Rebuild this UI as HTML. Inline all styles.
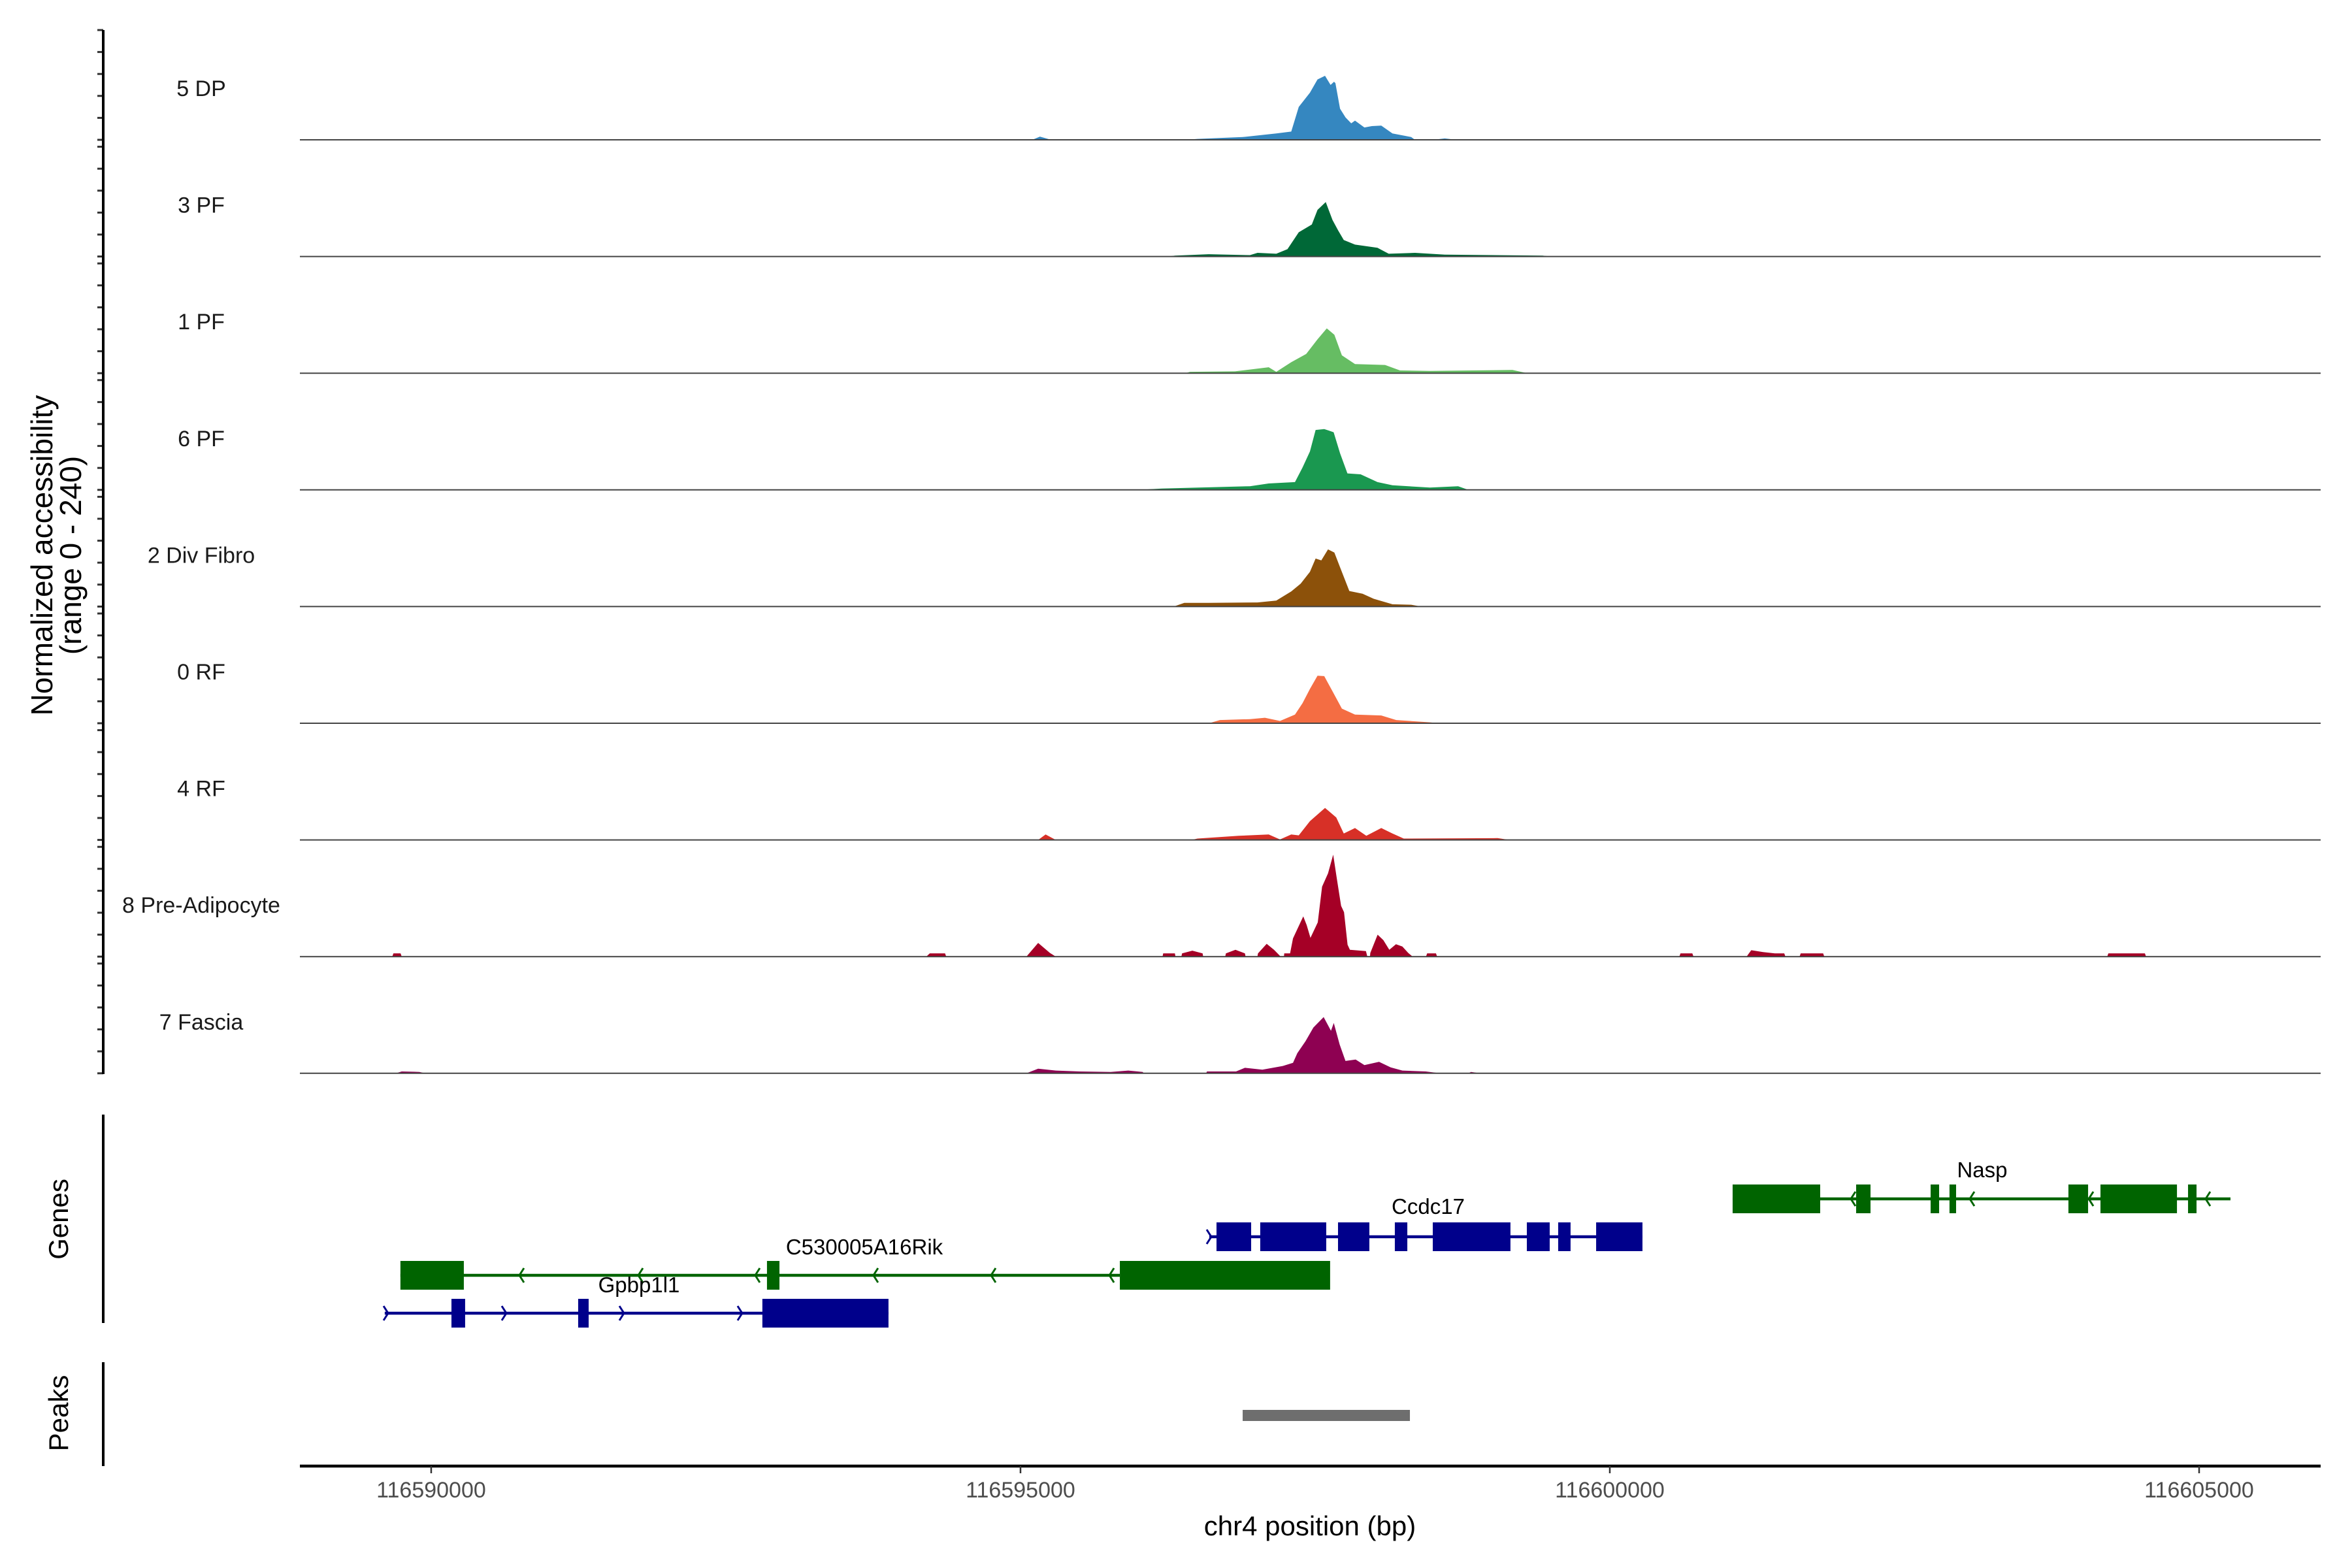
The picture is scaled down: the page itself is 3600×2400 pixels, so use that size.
<!DOCTYPE html>
<html><head><meta charset="utf-8"><style>
html,body{margin:0;padding:0;background:#fff;}
svg{display:block;font-family:"Liberation Sans",Arial,sans-serif;}
</style></head><body>
<svg id="chart" xmlns="http://www.w3.org/2000/svg" width="3600" height="2400" viewBox="0 0 3600 2400">
<rect width="3600" height="2400" fill="#fff"/>
<g id="tracks"></g>
<g id="genes"></g>
<g id="peaks"></g>
<g id="axes"></g>
</svg>
<script>
const NS="http://www.w3.org/2000/svg";
const BASE=116590000;
const trackNames=["5 DP","3 PF","1 PF","6 PF","2 Div Fibro","0 RF","4 RF","8 Pre-Adipocyte","7 Fascia"];
const trackColors=["#3587c0","#006837","#66bd63","#1a9850","#8c510a","#f46d43","#d73027","#a50026","#8e0152"];
const pos5DP=[5100,5165,5260,6400,6502,6884,7170,7297,7361,7456,7520,7584,7631,7660,7672,7711,7758,7806,7838,7918,7981,8061,8156,8315,8347,8500,8600,8700];
const val5DP=[0,7,0,0,2,6,14,18,72,103,132,140,120,127,124,68,49,36,42,27,30,31,14,6,0,0,3,0];
const pos3PF=[6250,6311,6597,6947,7011,7170,7265,7361,7472,7520,7590,7647,7695,7743,7838,8029,8124,8347,8600,9429,9500];
const val3PF=[0,2,5,3,8,6,16,53,70,102,119,80,57,36,26,19,6,8,4,2,0];
const pos1PF=[6400,6438,6820,7106,7170,7297,7424,7520,7599,7663,7727,7838,8093,8220,8474,9174,9300];
const val1PF=[0,3,4,13,3,24,42,74,98,84,39,20,18,6,5,7,0];
const pos6PF=[6000,6200,6947,7106,7329,7393,7456,7504,7577,7657,7711,7774,7886,8029,8156,8474,8713,8800];
const val6PF=[0,3,8,14,17,49,84,131,133,126,80,36,34,17,10,5,8,0];
const pos2DF=[6300,6390,6597,7011,7170,7297,7377,7456,7504,7552,7609,7663,7711,7790,7902,7997,8156,8315,8400];
const val2DF=[0,8,8,9,13,33,50,76,105,101,125,118,86,34,28,17,5,4,0];
const pos0RF=[6600,6692,6947,7074,7202,7329,7393,7456,7520,7577,7647,7727,7838,8061,8188,8474,8550];
const val0RF=[0,7,9,12,5,19,44,75,104,103,70,32,19,17,7,2,0];
const pos4RF=[5150,5213,5300,6450,6502,6852,7106,7202,7297,7361,7456,7584,7679,7743,7838,7934,8061,8156,8252,9047,9150];
const val4RF=[0,12,0,0,3,9,12,1,12,10,41,70,49,14,26,9,26,14,3,4,0];
const pos8PA=[-330,-320,-260,-250,4200,4230,4360,4370,5050,5150,5250,5300,6205,6211,6310,6315,6365,6371,6458,6545,6550,6737,6743,6824,6904,6910,7010,7015,7089,7151,7208,7235,7238,7287,7312,7399,7428,7460,7522,7559,7609,7653,7683,7720,7745,7775,7795,7931,7943,7965,7968,8030,8079,8129,8186,8240,8290,8327,8440,8450,8525,8535,10590,10600,10700,10710,11160,11200,11300,11400,11480,11490,11610,11620,11810,11820,14220,14230,14540,14550];
const val8PA=[0,7,7,0,0,7,7,0,0,30,8,0,0,7,7,0,0,7,13,7,0,0,7,15,7,0,0,7,28,15,0,0,7,7,40,88,69,41,75,153,182,223,172,111,97,26,15,12,0,0,8,48,36,15,27,22,8,0,0,7,7,0,0,7,7,0,0,14,10,7,7,0,0,7,7,0,0,7,7,0];
const pos7FA=[-300,-250,-100,-50,5050,5150,5300,5500,5765,5914,6037,6045,6575,6582,6829,6904,7052,7225,7312,7349,7418,7485,7572,7634,7658,7708,7757,7844,7918,8042,8141,8240,8438,8562,8800,8822,8900];
const val7FA=[0,4,3,0,0,10,6,4,3,6,3,0,0,4,4,12,8,16,23,44,70,100,123,93,110,63,27,30,18,25,13,6,4,0,0,3,0];
const trackPos=[pos5DP,pos3PF,pos1PF,pos6PF,pos2DF,pos0RF,pos4RF,pos8PA,pos7FA];
const trackVal=[val5DP,val3PF,val1PF,val6PF,val2DF,val0RF,val4RF,val8PA,val7FA];
const xTicks=[116590000,116595000,116600000,116605000];
const xTickLabels=["116590000","116595000","116600000","116605000"];
const geneNames=["C530005A16Rik","Gpbp1l1","Ccdc17","Nasp"];
const geneStrand=["-","+","+","-"];
const geneStart=[-261,-394,6602,11042];
const geneEnd=[5843,3880,10277,15266];
const exonsC530=[[-261,277],[2849,2955],[5843,7627]];
const exonsGpbp=[[172,288],[1247,1336],[2810,3880]];
const exonsCcdc=[[6663,6957],[7034,7594],[7694,7960],[8176,8282],[8498,9157],[9296,9490],[9562,9667],[9884,10277]];
const exonsNasp=[[11042,11785],[12090,12212],[12722,12794],[12882,12938],[13891,14058],[14163,14812],[14906,14978]];
const arrowsC530=[765,1774,2766,3769,4767,5771];
const arrowsGpbp=[-382,621,1619,2622];
const arrowsCcdc=[6602,7566];
const arrowsNasp=[12062,13071,14080,15072];
const peakStart=[6885];
const peakEnd=[8304];

const geneExons=[exonsC530,exonsGpbp,exonsCcdc,exonsNasp];
const geneArrows=[arrowsC530,arrowsGpbp,arrowsCcdc,arrowsNasp];
const geneRowY=[1952,2010,1893,1835];
const geneColor=["#006400","#00008b","#00008b","#006400"];
const geneLabelX=[1323,978,2186,3034];
const geneLabelY=[1920,1978,1858,1802];

const X0=116588886,X1=116606031,PX0=459,PX1=3552;
function xs(bp){return PX0+(bp-X0)*(PX1-PX0)/(X1-X0);}
function xo(off){return xs(BASE+off);}
const TRACK_H=168, TRACK_STEP=178.6, BASE0=214, VMAX=240;
function ys(i,v){return BASE0+TRACK_STEP*i - v*TRACK_H/VMAX;}
function mk(tag,attrs,parent){const e=document.createElementNS(NS,tag);for(const k in attrs)e.setAttribute(k,attrs[k]);parent.appendChild(e);return e;}

const gT=document.getElementById('tracks');
const gA=document.getElementById('axes');
for(let i=0;i<trackNames.length;i++){
  const P=trackPos[i],V=trackVal[i];
  let pts=[xo(P[0]).toFixed(1)+","+ys(i,0).toFixed(1)];
  for(let j=0;j<P.length;j++)pts.push(xo(P[j]).toFixed(1)+","+ys(i,V[j]).toFixed(1));
  pts.push(xo(P[P.length-1]).toFixed(1)+","+ys(i,0).toFixed(1));
  const poly=mk('polygon',{points:pts.join(' '),fill:trackColors[i]},gT);
  
  
  const bl=mk('line',{x1:PX0,x2:PX1,y1:ys(i,0),y2:ys(i,0),stroke:"#444","stroke-width":2},gT);
  
  
  const t=mk('text',{x:308,y:ys(i,0)-67,"font-size":34,"text-anchor":"middle",fill:"#1a1a1a"},gT);
  t.textContent=trackNames[i];
  
  
  for(let k=0;k<=5;k++){
    const ty=ys(i,k*48);
    const tk=mk('line',{x1:149,x2:158,y1:ty,y2:ty,stroke:"#333","stroke-width":3},gA);
    
    
  }
}
let ya=mk('line',{x1:158,x2:158,y1:46,y2:1644,stroke:"#000","stroke-width":4},gA);

let yt=mk('text',{transform:"translate(80,850) rotate(-90)","font-size":46,"text-anchor":"middle",fill:"#000"},gA);
yt.textContent="Normalized accessibility";

let yt2=mk('text',{transform:"translate(124,850) rotate(-90)","font-size":46,"text-anchor":"middle",fill:"#000"},gA);
yt2.textContent="(range 0 - 240)";

let ga=mk('line',{x1:158,x2:158,y1:1706,y2:2025,stroke:"#000","stroke-width":4},gA);

let gl=mk('text',{transform:"translate(104,1866) rotate(-90)","font-size":42,"text-anchor":"middle",fill:"#000"},gA);
gl.textContent="Genes";

let pa=mk('line',{x1:158,x2:158,y1:2085,y2:2244,stroke:"#000","stroke-width":4},gA);

let pl=mk('text',{transform:"translate(104,2163) rotate(-90)","font-size":42,"text-anchor":"middle",fill:"#000"},gA);
pl.textContent="Peaks";

let xa=mk('line',{x1:PX0,x2:PX1,y1:2244,y2:2244,stroke:"#000","stroke-width":4.5},gA);

for(let k=0;k<xTicks.length;k++){
  const x=xs(xTicks[k]);
  const tk=mk('line',{x1:x,x2:x,y1:2244,y2:2255,stroke:"#333","stroke-width":2.5},gA);
  
  const tl=mk('text',{x:x,y:2292,"font-size":34,"text-anchor":"middle",fill:"#4d4d4d"},gA);
  tl.textContent=xTickLabels[k];
  
}
let xt=mk('text',{x:2005,y:2350,"font-size":42,"text-anchor":"middle",fill:"#000"},gA);
xt.textContent="chr4 position (bp)";

const gG=document.getElementById('genes');
for(let g=0;g<geneNames.length;g++){
  const y=geneRowY[g],c=geneColor[g];
  const grp=mk('g',{},gG);
  
  
  mk('line',{x1:xo(geneStart[g]),x2:xo(geneEnd[g]),y1:y,y2:y,stroke:c,"stroke-width":4.5},grp);
  for(const a of geneArrows[g]){
    const x=xo(a);
    const d=geneStrand[g]=="-"?`M${x+4},${y-11} L${x-3},${y} L${x+4},${y+11}`:`M${x-4},${y-11} L${x+3},${y} L${x-4},${y+11}`;
    const ar=mk('path',{d:d,stroke:c,"stroke-width":3,fill:"none"},grp);
    
    
  }
  for(const ex of geneExons[g]){
    const r=mk('rect',{x:xo(ex[0]),y:y-22,width:xo(ex[1])-xo(ex[0]),height:44,fill:c},grp);
    
    
  }
  const lt=mk('text',{x:geneLabelX[g],y:geneLabelY[g],"font-size":33,"text-anchor":"middle",fill:"#000"},grp);
  lt.textContent=geneNames[g];
  
  
}
const gP=document.getElementById('peaks');
for(let k=0;k<peakStart.length;k++){
  const r=mk('rect',{x:xo(peakStart[k]),y:2158,width:xo(peakEnd[k])-xo(peakStart[k]),height:17,fill:"#6e6e6e"},gP);
  
  
}
</script>
</body></html>
